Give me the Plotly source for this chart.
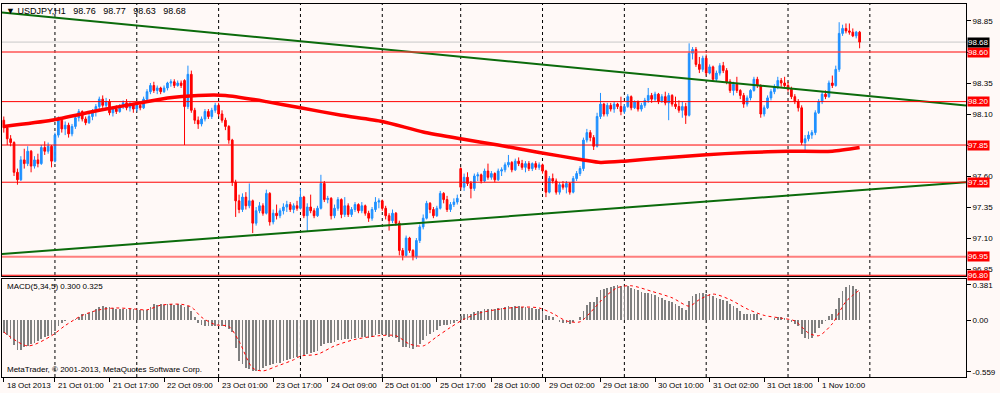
import plotly.graph_objects as go

# ---------------- data ----------------
opens = [
    98.05, 97.99, 97.90, 97.87, 97.63, 97.57, 97.73, 97.70, 97.80, 97.68, 97.73, 97.70, 97.83, 97.80, 97.84,
    97.72, 97.93, 98.05, 97.98, 98.01, 97.94, 98.00, 98.07, 98.12, 98.06, 98.03, 98.08, 98.12, 98.16, 98.22, 98.17, 98.20, 98.11, 98.14, 98.12, 98.16, 98.19, 98.15, 98.18,
    98.14, 98.17, 98.15, 98.22, 98.28, 98.33, 98.29, 98.31, 98.28, 98.31, 98.35, 98.36, 98.33, 98.35, 98.37, 98.16, 98.42, 98.13, 98.05, 98.02, 98.06, 98.12, 98.08, 98.13,
    98.17, 98.10, 98.05, 98.00, 97.89, 97.55, 97.40, 97.33, 97.43, 97.36, 97.40, 97.22, 97.32, 97.36, 97.30, 97.46, 97.23, 97.30, 97.28, 97.32, 97.35, 97.37, 97.33, 97.36,
    97.34, 97.43, 97.28, 97.35, 97.32, 97.28, 97.34, 97.54, 97.41, 97.42, 97.28, 97.34, 97.41, 97.29, 97.36, 97.29, 97.33, 97.37, 97.32, 97.36, 97.30, 97.26, 97.33, 97.39,
    97.40, 97.34, 97.28, 97.24, 97.30, 97.22, 97.00, 96.96, 97.10, 97.00, 96.95, 97.08, 97.19, 97.26, 97.38, 97.33, 97.28, 97.34, 97.46, 97.41, 97.33, 97.37, 97.39,
    97.66, 97.51, 97.59, 97.54, 97.50, 97.60, 97.61, 97.56, 97.64, 97.59, 97.62, 97.57, 97.64, 97.65, 97.69, 97.71, 97.65, 97.72, 97.70, 97.67, 97.70, 97.66, 97.70, 97.67,
    97.69, 97.64, 97.47, 97.58, 97.56, 97.47, 97.53, 97.51, 97.54, 97.47, 97.58, 97.62, 97.66, 97.89, 97.95, 97.91, 97.84, 98.08, 98.18, 98.10, 98.17, 98.14, 98.18, 98.16,
    98.12, 98.16, 98.24, 98.15, 98.20, 98.14, 98.17, 98.21, 98.25, 98.22, 98.26, 98.20, 98.24, 98.19, 98.25, 98.18, 98.16, 98.13, 98.16, 98.09, 98.59, 98.62, 98.50, 98.46,
    98.55, 98.43, 98.48, 98.38, 98.43, 98.49, 98.45, 98.36, 98.29, 98.34, 98.29, 98.25, 98.18, 98.23, 98.29, 98.38, 98.33, 98.10, 98.15, 98.23, 98.28, 98.32, 98.37, 98.35,
    98.33, 98.30, 98.24, 98.20, 98.15, 97.87, 97.90, 97.93, 97.95, 98.11, 98.20, 98.26, 98.24, 98.35, 98.33, 98.46, 98.75, 98.79, 98.77, 98.76, 98.73, 98.76,
]
highs = [
    98.08, 98.01, 97.93, 97.88, 97.66, 97.76, 97.82, 97.84, 97.81, 97.76, 97.78, 97.85, 97.88, 97.87, 97.85,
    97.95, 98.08, 98.07, 98.04, 98.03, 98.02, 98.09, 98.14, 98.13, 98.08, 98.10, 98.14, 98.18, 98.24, 98.25, 98.23, 98.22, 98.16, 98.17, 98.18, 98.21, 98.22, 98.20, 98.19,
    98.19, 98.20, 98.24, 98.30, 98.35, 98.36, 98.33, 98.32, 98.33, 98.36, 98.38, 98.38, 98.37, 98.37, 98.38, 98.49, 98.45, 98.15, 98.08, 98.08, 98.14, 98.14, 98.15, 98.19,
    98.19, 98.13, 98.07, 98.01, 97.90, 97.57, 97.45, 97.46, 97.47, 97.54, 97.41, 97.35, 97.39, 97.38, 97.49, 97.47, 97.33, 97.37, 97.34, 97.38, 97.40, 97.39, 97.38, 97.40,
    97.50, 97.44, 97.38, 97.45, 97.34, 97.36, 97.61, 97.56, 97.44, 97.43, 97.37, 97.43, 97.42, 97.43, 97.38, 97.35, 97.39, 97.38, 97.39, 97.37, 97.32, 97.35, 97.43, 97.42,
    97.41, 97.36, 97.30, 97.33, 97.31, 97.24, 97.02, 97.12, 97.11, 97.01, 97.10, 97.21, 97.29, 97.40, 97.39, 97.35, 97.36, 97.48, 97.47, 97.44, 97.39, 97.42, 97.45,
    97.67, 97.62, 97.63, 97.56, 97.62, 97.63, 97.62, 97.66, 97.70, 97.64, 97.63, 97.66, 97.67, 97.71, 97.77, 97.72, 97.74, 97.75, 97.73, 97.72, 97.72, 97.71, 97.72, 97.71,
    97.70, 97.65, 97.60, 97.62, 97.58, 97.55, 97.56, 97.56, 97.55, 97.60, 97.64, 97.68, 97.91, 97.98, 97.97, 97.93, 98.11, 98.27, 98.19, 98.19, 98.19, 98.20, 98.19, 98.24,
    98.18, 98.26, 98.25, 98.21, 98.21, 98.19, 98.23, 98.31, 98.27, 98.28, 98.27, 98.26, 98.28, 98.27, 98.26, 98.24, 98.21, 98.20, 98.19, 98.67, 98.64, 98.64, 98.56, 98.57,
    98.58, 98.50, 98.49, 98.45, 98.51, 98.52, 98.47, 98.38, 98.36, 98.40, 98.30, 98.27, 98.25, 98.30, 98.40, 98.40, 98.34, 98.17, 98.25, 98.30, 98.34, 98.40, 98.39, 98.40,
    98.36, 98.32, 98.26, 98.22, 98.17, 97.93, 97.96, 97.97, 98.13, 98.22, 98.28, 98.29, 98.37, 98.41, 98.49, 98.84, 98.82, 98.83, 98.83, 98.79, 98.77, 98.77,
]
lows = [
    97.95, 97.85, 97.84, 97.60, 97.53, 97.56, 97.66, 97.68, 97.63, 97.66, 97.67, 97.69, 97.77, 97.78, 97.67,
    97.71, 97.91, 97.95, 97.93, 97.91, 97.92, 97.98, 98.04, 98.04, 98.01, 98.02, 98.05, 98.08, 98.14, 98.15, 98.14, 98.09, 98.08, 98.10, 98.11, 98.14, 98.13, 98.12, 98.11,
    98.12, 98.13, 98.14, 98.20, 98.26, 98.27, 98.26, 98.26, 98.27, 98.29, 98.32, 98.31, 98.32, 98.31, 97.85, 98.14, 98.11, 98.02, 97.98, 98.00, 98.04, 98.06, 98.06, 98.11,
    98.08, 98.03, 97.97, 97.86, 97.52, 97.27, 97.30, 97.31, 97.33, 97.34, 97.14, 97.20, 97.30, 97.28, 97.29, 97.20, 97.21, 97.25, 97.26, 97.29, 97.31, 97.31, 97.30, 97.32,
    97.33, 97.26, 97.15, 97.30, 97.26, 97.27, 97.33, 97.39, 97.38, 97.25, 97.26, 97.32, 97.26, 97.27, 97.27, 97.27, 97.31, 97.30, 97.30, 97.28, 97.23, 97.24, 97.31, 97.34,
    97.32, 97.25, 97.16, 97.22, 97.20, 96.96, 96.92, 96.95, 96.98, 96.92, 96.93, 97.06, 97.17, 97.25, 97.30, 97.26, 97.27, 97.33, 97.38, 97.31, 97.31, 97.35, 97.37,
    97.49, 97.48, 97.52, 97.42, 97.48, 97.56, 97.54, 97.55, 97.57, 97.57, 97.55, 97.56, 97.60, 97.63, 97.67, 97.63, 97.64, 97.68, 97.65, 97.63, 97.64, 97.64, 97.65, 97.65,
    97.62, 97.43, 97.46, 97.54, 97.45, 97.45, 97.49, 97.46, 97.45, 97.46, 97.56, 97.60, 97.64, 97.87, 97.88, 97.81, 97.83, 98.06, 98.08, 98.08, 98.12, 98.11, 98.14, 98.09,
    98.10, 98.15, 98.13, 98.14, 98.12, 98.12, 98.15, 98.19, 98.19, 98.20, 98.18, 98.19, 98.17, 98.05, 98.16, 98.14, 98.11, 98.07, 98.02, 98.08, 98.54, 98.48, 98.43, 98.44,
    98.41, 98.42, 98.36, 98.36, 98.41, 98.43, 98.34, 98.27, 98.25, 98.27, 98.22, 98.15, 98.16, 98.21, 98.28, 98.31, 98.07, 98.08, 98.14, 98.21, 98.26, 98.30, 98.32, 98.31,
    98.28, 98.22, 98.18, 98.12, 97.85, 97.80, 97.88, 97.90, 97.93, 98.10, 98.18, 98.22, 98.23, 98.31, 98.32, 98.44, 98.73, 98.75, 98.74, 98.72, 98.71, 98.63,
]
closes = [
    97.99, 97.90, 97.87, 97.63, 97.57, 97.73, 97.70, 97.80, 97.68, 97.73, 97.70, 97.83, 97.80, 97.84, 97.72,
    97.93, 98.05, 97.98, 98.01, 97.94, 98.00, 98.07, 98.12, 98.06, 98.03, 98.08, 98.12, 98.16, 98.22, 98.17, 98.20, 98.11, 98.14, 98.12, 98.16, 98.19, 98.15, 98.18, 98.14,
    98.17, 98.15, 98.22, 98.28, 98.33, 98.29, 98.31, 98.28, 98.31, 98.35, 98.36, 98.33, 98.35, 98.33, 98.16, 98.42, 98.13, 98.05, 98.02, 98.06, 98.12, 98.08, 98.13, 98.17,
    98.10, 98.05, 98.00, 97.89, 97.55, 97.40, 97.33, 97.43, 97.36, 97.40, 97.22, 97.32, 97.36, 97.30, 97.46, 97.23, 97.30, 97.28, 97.32, 97.35, 97.37, 97.33, 97.36, 97.34,
    97.43, 97.28, 97.35, 97.32, 97.28, 97.34, 97.54, 97.41, 97.42, 97.28, 97.34, 97.41, 97.29, 97.36, 97.29, 97.33, 97.37, 97.32, 97.36, 97.30, 97.26, 97.33, 97.39, 97.40,
    97.34, 97.28, 97.24, 97.30, 97.22, 97.00, 96.96, 97.10, 97.00, 96.95, 97.08, 97.19, 97.26, 97.38, 97.33, 97.28, 97.34, 97.46, 97.41, 97.33, 97.37, 97.39, 97.42,
    97.51, 97.59, 97.54, 97.50, 97.60, 97.61, 97.56, 97.64, 97.59, 97.62, 97.57, 97.64, 97.65, 97.69, 97.71, 97.65, 97.72, 97.70, 97.67, 97.70, 97.66, 97.70, 97.67, 97.69,
    97.64, 97.47, 97.58, 97.56, 97.47, 97.53, 97.51, 97.54, 97.47, 97.58, 97.62, 97.66, 97.89, 97.95, 97.91, 97.84, 98.08, 98.18, 98.10, 98.17, 98.14, 98.18, 98.16, 98.12,
    98.16, 98.24, 98.15, 98.20, 98.14, 98.17, 98.21, 98.25, 98.22, 98.26, 98.20, 98.24, 98.19, 98.25, 98.18, 98.16, 98.13, 98.16, 98.09, 98.59, 98.62, 98.50, 98.46, 98.55,
    98.43, 98.48, 98.38, 98.43, 98.49, 98.45, 98.36, 98.29, 98.34, 98.29, 98.25, 98.18, 98.23, 98.29, 98.38, 98.33, 98.10, 98.15, 98.23, 98.28, 98.32, 98.37, 98.35, 98.33,
    98.30, 98.24, 98.20, 98.15, 97.87, 97.90, 97.93, 97.95, 98.11, 98.20, 98.26, 98.24, 98.35, 98.33, 98.46, 98.75, 98.79, 98.77, 98.76, 98.73, 98.76, 98.68,
]

# MACD(5,34,5) main line, one value per bar
macd_main = [
    -0.14, -0.16, -0.20, -0.27, -0.32, -0.32, -0.29, -0.28, -0.26, -0.25, -0.23, -0.21, -0.18, -0.17, -0.16,
    -0.12, -0.06, -0.03, -0.01, 0.00, 0.00, 0.01, 0.03, 0.06, 0.07, 0.08, 0.10, 0.12, 0.14, 0.15, 0.14, 0.14, 0.13, 0.12, 0.12, 0.12, 0.12, 0.12, 0.12,
    0.11, 0.11, 0.11, 0.11, 0.14, 0.17, 0.16, 0.17, 0.16, 0.17, 0.17, 0.16, 0.17, 0.16, 0.14, 0.15, 0.10, 0.03, -0.03, -0.05, -0.06, -0.07, -0.07, -0.06,
    -0.055, -0.06, -0.08, -0.10, -0.13, -0.30, -0.44, -0.48, -0.52, -0.53, -0.55, -0.55, -0.54, -0.52, -0.50, -0.49, -0.48, -0.47, -0.46, -0.44, -0.43, -0.42, -0.41, -0.40,
    -0.39, -0.38, -0.37, -0.36, -0.35, -0.33, -0.28, -0.26, -0.25, -0.25, -0.24, -0.22, -0.22, -0.21, -0.21, -0.20, -0.19, -0.19, -0.18, -0.18, -0.19, -0.18, -0.16, -0.15,
    -0.15, -0.16, -0.18, -0.18, -0.19, -0.24, -0.29, -0.29, -0.30, -0.31, -0.29, -0.26, -0.22, -0.17, -0.15, -0.13, -0.11, -0.07, -0.05, -0.05, -0.04, -0.03, -0.01,
    0.04, 0.06, 0.07, 0.07, 0.09, 0.10, 0.10, 0.12, 0.12, 0.12, 0.12, 0.13, 0.13, 0.14, 0.15, 0.14, 0.15, 0.15, 0.14, 0.14, 0.13, 0.13, 0.12, 0.12,
    0.10, 0.05, 0.04, 0.03, 0.00, -0.02, -0.03, -0.03, -0.04, -0.02, 0.00, 0.03, 0.10, 0.16, 0.19, 0.19, 0.25, 0.32, 0.33, 0.35, 0.36, 0.37, 0.38, 0.37,
    0.37, 0.37, 0.35, 0.34, 0.32, 0.30, 0.29, 0.29, 0.28, 0.27, 0.25, 0.24, 0.22, 0.21, 0.19, 0.17, 0.15, 0.13, 0.11, 0.20, 0.26, 0.28, 0.29, 0.29,
    0.28, 0.28, 0.26, 0.24, 0.23, 0.22, 0.20, 0.17, 0.15, 0.13, 0.10, 0.07, 0.06, 0.06, 0.07, 0.07, 0.02, 0.00, 0.00, 0.00, 0.02, 0.03, 0.03, 0.02,
    0.00, -0.02, -0.04, -0.06, -0.15, -0.19, -0.20, -0.19, -0.14, -0.09, -0.04, -0.01, 0.04, 0.07, 0.12, 0.24, 0.31, 0.36, 0.38, 0.37, 0.34, 0.30,
]

# MACD signal line (red dotted), read at points along the curve
signal_idx = [0, 7, 14, 18, 23, 28, 33, 38, 42, 46, 52, 55, 58, 62, 66, 69, 73, 76, 80, 85, 87,
              92, 97, 103, 110, 115, 119, 123, 127, 131, 135, 140, 146, 152, 157, 161, 165, 169,
              172, 176, 180, 184, 190, 196, 201, 204, 208, 213, 218, 223, 228, 232, 236, 239, 243, 247, 251]
signal_val = [-0.13, -0.28, -0.17, -0.06, 0.05, 0.11, 0.13, 0.12, 0.11, 0.16, 0.17, 0.14, 0.03, -0.05, -0.07, -0.23, -0.52, -0.55, -0.50, -0.43, -0.39,
              -0.37, -0.28, -0.21, -0.17, -0.17, -0.26, -0.28, -0.18, -0.08, 0.01, 0.08, 0.12, 0.14, 0.13, 0.07, -0.01, -0.02,
              0.08, 0.24, 0.35, 0.37, 0.31, 0.24, 0.15, 0.22, 0.28, 0.22, 0.12, 0.05, 0.02, -0.01, -0.14, -0.17, -0.04, 0.20, 0.325]

# moving average (thick red line)
ma_idx = [0, 14, 28, 40, 48, 57, 65, 77, 87, 99, 111, 123, 134, 145, 157, 170, 175, 182, 193, 205, 218, 230, 243, 251]
ma_val = [98.00, 98.05, 98.13, 98.19, 98.23, 98.25, 98.25, 98.20, 98.15, 98.09, 98.04, 97.955, 97.90, 97.85, 97.79,
          97.73, 97.71, 97.72, 97.745, 97.77, 97.79, 97.80, 97.80, 97.83]

# horizontal levels and trend lines
level_prices = [98.60, 98.20, 97.85, 97.55, 96.95, 96.80]
level_faint = [True, False, False, False, True, False]
bid_price = 98.68
upper_trend_x = [-1.11, 282.2]
upper_trend_y = [98.921, 98.168]
lower_trend_x = [-1.11, 282.2]
lower_trend_y = [96.971, 97.550]

# time axis
day_grid_idx = [15, 39, 63, 87, 111, 134, 158, 182, 206, 230, 254]
time_tick_idx = [0, 15, 31, 47, 63, 79, 95, 111, 127, 143, 159, 175, 191, 207, 223, 239]
time_tick_labels = ["18 Oct 2013", "21 Oct 01:00", "21 Oct 17:00", "22 Oct 09:00", "23 Oct 01:00",
                    "23 Oct 17:00", "24 Oct 09:00", "25 Oct 01:00", "25 Oct 17:00", "28 Oct 10:00",
                    "29 Oct 02:00", "29 Oct 18:00", "30 Oct 10:00", "31 Oct 02:00", "31 Oct 18:00",
                    "1 Nov 10:00"]
price_ticks = [96.85, 97.10, 97.35, 97.60, 97.85, 98.10, 98.35, 98.60, 98.85]
hidden_price_ticks = [97.85, 98.60]   # covered by the level labels in the reference
macd_ticks = [0.381, 0.0, -0.559]
macd_tick_labels = ["0.381", "0.00", "-0.559"]

symbol_text = "USDJPY,H1"
quote_values = ["98.76", "98.77", "98.63", "98.68"]
macd_text = "MACD(5,34,5) 0.300 0.325"
copyright_text = "MetaTrader, \u00a9 2001-2013, MetaQuotes Software Corp."

# ---------------- figure ----------------
BG = "#FFF9F7"
FONT = "Liberation Sans"
NB = "\u00a0"
bars = list(range(len(closes)))

fig = go.Figure()

fig.add_trace(go.Candlestick(
    x=bars, open=opens, high=highs, low=lows, close=closes,
    increasing=dict(line=dict(color="#1E90FF", width=1), fillcolor="#1E90FF"),
    decreasing=dict(line=dict(color="#FF0000", width=1), fillcolor="#FF0000"),
    whiskerwidth=0, xaxis="x", yaxis="y", showlegend=False, hoverinfo="skip"))

fig.add_trace(go.Scatter(x=ma_idx, y=ma_val, mode="lines",
                         line=dict(color="#FF0000", width=3.5, shape="spline", smoothing=0.6),
                         xaxis="x", yaxis="y", showlegend=False, hoverinfo="skip"))
for tx, ty in ((upper_trend_x, upper_trend_y), (lower_trend_x, lower_trend_y)):
    fig.add_trace(go.Scatter(x=tx, y=ty, mode="lines", line=dict(color="#0B6B0B", width=2),
                             xaxis="x", yaxis="y", showlegend=False, hoverinfo="skip"))

fig.add_trace(go.Bar(x=bars, y=macd_main, marker=dict(color="#808080", line=dict(width=0)), width=0.5,
                     xaxis="x2", yaxis="y2", showlegend=False, hoverinfo="skip"))
fig.add_trace(go.Scatter(x=signal_idx, y=signal_val, mode="lines",
                         line=dict(color="#FF0000", width=1, dash="dot", shape="spline", smoothing=0.8),
                         xaxis="x2", yaxis="y2", showlegend=False, hoverinfo="skip"))

shapes = []
for d in day_grid_idx:
    shapes.append(dict(type="line", xref="x", yref="paper", x0=d, x1=d, y0=0, y1=1,
                       line=dict(color="#000000", width=1, dash="dot"), layer="below"))
for p, faint in zip(level_prices, level_faint):
    shapes.append(dict(type="line", xref="paper", yref="y", x0=0, x1=1, y0=p, y1=p,
                       line=dict(color="rgba(255,60,60,0.65)" if faint else "#FF0000", width=2 if faint else 1)))
shapes.append(dict(type="line", xref="paper", yref="y", x0=0, x1=1, y0=bid_price, y1=bid_price,
                   line=dict(color="#C8C8C8", width=1), layer="below"))

annotations = []
for p in level_prices:
    annotations.append(dict(xref="paper", yref="y", x=1, y=p, xanchor="left", yanchor="middle", xshift=1,
                            text=f"{p:.2f}", showarrow=False, bgcolor="#FF0000", borderpad=0,
                            font=dict(family=FONT, size=8, color="#FFFFFF")))
annotations.append(dict(xref="paper", yref="y", x=1, y=bid_price, xanchor="left", yanchor="middle", xshift=1,
                        text=f"{bid_price:.2f}", showarrow=False, bgcolor="#000000", borderpad=0,
                        font=dict(family=FONT, size=8, color="#FFFFFF")))
for idx, lab in zip(time_tick_idx, time_tick_labels):
    annotations.append(dict(xref="x2", yref="paper", x=idx, y=0, xanchor="left", yanchor="top", xshift=1, yshift=-2,
                            text=lab, showarrow=False, font=dict(family=FONT, size=8, color="#000000")))
title_line = "\u25BC " + symbol_text + (NB * 3) + (NB * 3).join(quote_values)
annotations.append(dict(xref="paper", yref="paper", x=0, y=1, xanchor="left", yanchor="top", xshift=2, yshift=0,
                        text=title_line, showarrow=False, font=dict(family=FONT, size=9, color="#000000")))
annotations.append(dict(xref="paper", yref="y2 domain", x=0, y=1, xanchor="left", yanchor="top", xshift=3, yshift=-1,
                        text=macd_text, showarrow=False, font=dict(family=FONT, size=8, color="#000000")))
annotations.append(dict(xref="paper", yref="y2 domain", x=0, y=0, xanchor="left", yanchor="bottom", xshift=3, yshift=1,
                        text=copyright_text, showarrow=False, font=dict(family=FONT, size=8, color="#000000")))

xr = [-0.53, 282.2]
axis_common = dict(showgrid=False, zeroline=False, showline=True, linecolor="#000000", linewidth=1, mirror=True)

fig.update_layout(
    width=1000, height=393,
    margin=dict(l=2, r=34, t=4, b=16),
    paper_bgcolor=BG, plot_bgcolor=BG,
    font=dict(family=FONT, size=8, color="#000000"),
    bargap=0,
    xaxis=dict(domain=[0, 1], anchor="y", range=xr, showticklabels=False, ticks="",
               rangeslider=dict(visible=False), **axis_common),
    yaxis=dict(domain=[0.2708, 1], anchor="x", side="right", range=[96.794, 98.987],
               tickvals=price_ticks,
               ticktext=["" if v in hidden_price_ticks else f"{v:.2f}" for v in price_ticks],
               ticks="outside", ticklen=4, tickcolor="#000000", tickfont=dict(family=FONT, size=8), **axis_common),
    xaxis2=dict(domain=[0, 1], anchor="y2", range=xr, matches="x", tickvals=time_tick_idx, showticklabels=False,
                ticks="outside", ticklen=4, tickcolor="#000000", **axis_common),
    yaxis2=dict(domain=[0, 0.2627], anchor="x2", side="right", range=[-0.616, 0.443],
                tickvals=macd_ticks, ticktext=macd_tick_labels,
                ticks="outside", ticklen=4, tickcolor="#000000", tickfont=dict(family=FONT, size=8), **axis_common),
    shapes=shapes, annotations=annotations,
)

fig.write_html("out.html", config={"displayModeBar": False, "staticPlot": True},
               post_script="document.body.style.margin='0px';document.body.style.overflow='hidden';")
